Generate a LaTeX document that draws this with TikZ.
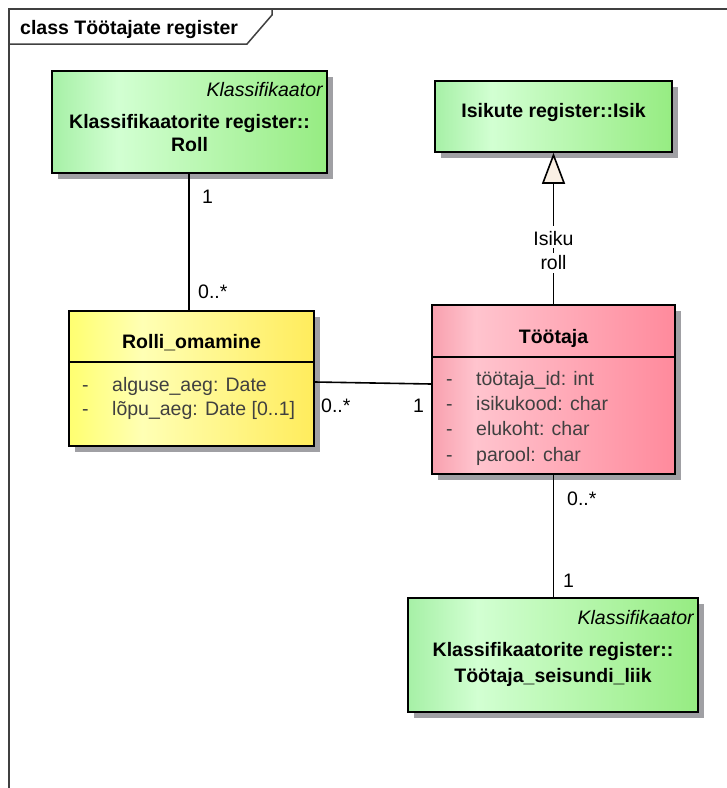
\documentclass[tikz,border=0pt]{standalone}
\usepackage{fontspec}
\setmainfont{Liberation Sans}
\usetikzlibrary{arrows.meta,shadows}

% box fill colours
\definecolor{gA}{HTML}{A6F0A6}
\definecolor{gB}{HTML}{D2FFD2}
\definecolor{gC}{HTML}{96EC82}
\definecolor{yA}{HTML}{FFFF70}
\definecolor{yB}{HTML}{FFFFB4}
\definecolor{yC}{HTML}{FFEC5C}
\definecolor{pA}{HTML}{F8A0AE}
\definecolor{pB}{HTML}{FFC4CE}
\definecolor{pC}{HTML}{FF8A9C}
\definecolor{shadowgray}{HTML}{A0A0A4}
\definecolor{attrgray}{HTML}{404040}
\definecolor{tipfill}{HTML}{FAF0E4}

\pgfdeclarehorizontalshading{greenshade}{100bp}{color(0bp)=(gA); color(25bp)=(gA); color(37bp)=(gB); color(75bp)=(gC); color(100bp)=(gC)}
\pgfdeclarehorizontalshading{yellowshade}{100bp}{color(0bp)=(yA); color(25bp)=(yA); color(40bp)=(yB); color(75bp)=(yC); color(100bp)=(yC)}
\pgfdeclarehorizontalshading{pinkshade}{100bp}{color(0bp)=(pA); color(25bp)=(pA); color(34bp)=(pB); color(75bp)=(pC); color(100bp)=(pC)}

\tikzset{
  umlbox/.style={draw=black, line width=1.6pt, inner sep=0pt, shade,
    drop shadow={shadow xshift=6pt, shadow yshift=-6pt, fill=shadowgray, opacity=1}},
  greenbox/.style={umlbox, shading=greenshade},
  yellowbox/.style={umlbox, shading=yellowshade},
  pinkbox/.style={umlbox, shading=pinkshade},
  plain/.style={inner sep=0pt, font=\fontsize{19.5}{24}\selectfont},
  boldtxt/.style={plain, font=\fontsize{19.5}{24}\selectfont\bfseries},
  stereo/.style={plain, font=\fontsize{19.5}{24}\selectfont\itshape},
  attr/.style={plain, text=attrgray},
  mult/.style={plain, anchor=base west},
  genlbl/.style={plain, fill=white, inner xsep=3pt, inner ysep=1pt, anchor=base},
  link/.style={line width=1.6pt, draw=black},
  framepen/.style={line width=1.5pt, draw=black!75},
}

\begin{document}
\begin{tikzpicture}[x=1pt, y=-1pt]
\useasboundingbox (0,0) rectangle (727,788);

% diagram frame with its name tab
\draw[framepen] (9,788) -- (9,9) -- (727,9);
\draw[framepen] (9,44) -- (247,44) -- (272,15) -- (272,9);
\node[boldtxt, anchor=base west] (frametitle) at (20,34) {class Töötajate register};

% classes
\node[greenbox, minimum width=275pt, minimum height=102pt] (roll) at (189.5,122) {};
\node[greenbox, minimum width=237pt, minimum height=71pt] (isik) at (553.5,116.5) {};
\node[yellowbox, minimum width=245pt, minimum height=135pt] (rolli) at (191.5,378.5) {};
\node[pinkbox, minimum width=243pt, minimum height=169pt] (toot) at (553.5,389.5) {};
\node[greenbox, minimum width=290pt, minimum height=114pt] (seis) at (553,655) {};

% Klassifikaatorite register::Roll
\node[stereo, anchor=base east] (rollst) at ([xshift=-5pt]roll.east |- 0,96) {Klassifikaator};
\node[boldtxt, anchor=base] (rollname1) at (roll.center |- 0,128) {Klassifikaatorite register::};
\node[boldtxt, anchor=base] (rollname2) at (roll.center |- 0,151) {Roll};

% Isikute register::Isik
\node[boldtxt, anchor=base] (isikname) at (isik.center |- 0,117) {Isikute register::Isik};

% Rolli_omamine
\node[boldtxt, anchor=base] (rolliname) at (rolli.center |- 0,348) {Rolli\_omamine};
\draw[line width=1.5pt] (rolli.west |- 0,362) -- (rolli.east |- 0,362);
\node[attr, anchor=base west] (rd1) at (82,391) {-};
\node[attr, anchor=base west] (ra1) at (112,391) {alguse\_aeg: Date};
\node[attr, anchor=base west] (rd2) at (82,415) {-};
\node[attr, anchor=base west] (ra2) at (112,415) {lõpu\_aeg: Date [0..1]};

% Töötaja
\node[boldtxt, anchor=base] (tootname) at (toot.center |- 0,343) {Töötaja};
\draw[line width=1.5pt] (toot.west |- 0,357) -- (toot.east |- 0,357);
\node[attr, anchor=base west] (td1) at (446,385) {-};
\node[attr, anchor=base west] (ta1) at (476,385) {töötaja\_id: int};
\node[attr, anchor=base west] (td2) at (446,410) {-};
\node[attr, anchor=base west] (ta2) at (476,410) {isikukood: char};
\node[attr, anchor=base west] (td3) at (446,435) {-};
\node[attr, anchor=base west] (ta3) at (476,435) {elukoht: char};
\node[attr, anchor=base west] (td4) at (446,461) {-};
\node[attr, anchor=base west] (ta4) at (476,461) {parool: char};

% Klassifikaatorite register::Töötaja_seisundi_liik
\node[stereo, anchor=base east] (seisst) at ([xshift=-5pt]seis.east |- 0,624) {Klassifikaator};
\node[boldtxt, anchor=base] (seisname1) at (seis.center |- 0,656) {Klassifikaatorite register::};
\node[boldtxt, anchor=base] (seisname2) at (seis.center |- 0,682) {Töötaja\_seisundi\_liik};

% associations
\draw[link] (roll.south -| 189,0) -- (rolli.north -| 189,0);
\node[mult] (m1) at (202,203) {1};
\node[mult] (m2) at (198,298) {0..*};

\draw[link] ([yshift=-3.5pt]rolli.east) -- ([yshift=5.5pt]toot.west);
\node[mult] (m3) at (321,412) {0..*};
\node[mult] (m4) at (413,412) {1};

\draw[link] (toot.south) -- (seis.north -| toot.south);
\node[mult] (m5) at (567,505) {0..*};
\node[mult] (m6) at (563,587) {1};

% generalisation with its two-line role label
\draw[link, -{Triangle[length=31pt, width=23pt, fill=tipfill]}] (toot.north) -- (isik.south);
\node[genlbl, text height=18pt, text depth=2pt] (genlabel1) at (toot.north |- 0,245) {Isiku};
\node[genlbl, text height=15pt, text depth=3pt] (genlabel2) at (toot.north |- 0,269) {roll};
\end{tikzpicture}
\end{document}
